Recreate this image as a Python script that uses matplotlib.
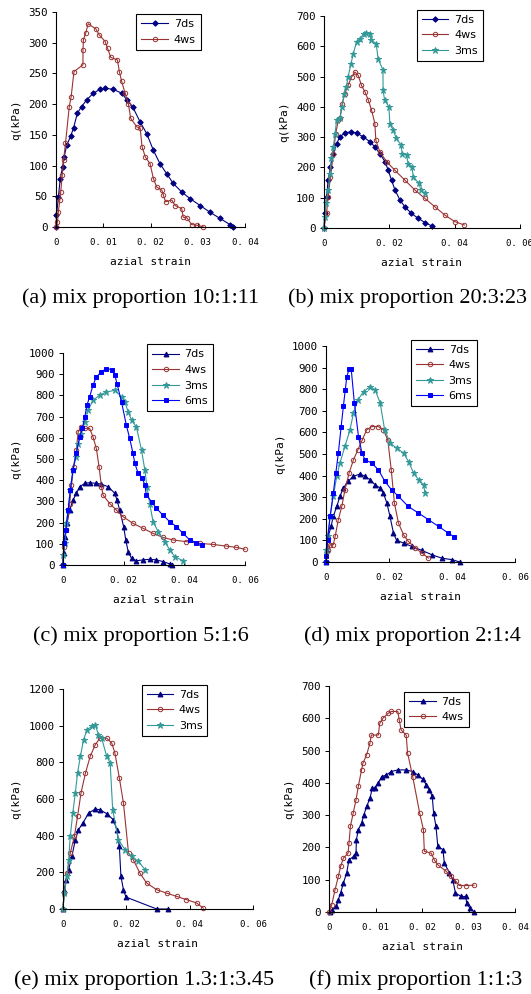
import numpy as np
import matplotlib
matplotlib.use('Agg')
import matplotlib.pyplot as plt

# ---- data (strain, q in kPa) ----
# (a) mix proportion 10:1:11
a_7ds_x = [0, 0.0001, 0.0005, 0.0009, 0.0014, 0.0017, 0.0023, 0.0031, 0.0037, 0.0045, 0.0054, 0.0065,
           0.0079, 0.0093, 0.0104, 0.0121, 0.0139, 0.015, 0.0162, 0.0178, 0.0192, 0.0206, 0.022, 0.0234,
           0.0248, 0.0266, 0.0284, 0.0305, 0.0326, 0.0347, 0.0368, 0.0375]
a_7ds_y = [0, 19, 49, 79, 98, 114, 134, 148, 161, 185, 196, 207, 218, 224, 226, 224, 218, 207, 196, 171,
           152, 125, 103, 87, 71, 57, 46, 35, 24, 14, 4, 0]
a_4ws_x = [0, 0.0003, 0.0005, 0.0008, 0.0010, 0.0013, 0.0016, 0.0020, 0.0028, 0.0032, 0.0038, 0.0057,
           0.0057, 0.0058, 0.0063, 0.0068, 0.0085, 0.0091, 0.0104, 0.0109, 0.0116, 0.013, 0.0134, 0.0139,
           0.0146, 0.0153, 0.0158, 0.0171, 0.0178, 0.0182, 0.0189, 0.0199, 0.0206, 0.0213, 0.0224, 0.0227,
           0.0232, 0.0245, 0.0252, 0.0266, 0.0269, 0.0277, 0.0287, 0.0298, 0.0312]
a_4ws_y = [0, 8, 25, 44, 57, 84, 109, 136, 196, 212, 253, 264, 288, 305, 316, 331, 322, 313, 302, 291,
           276, 272, 253, 237, 218, 201, 177, 163, 161, 131, 114, 103, 79, 65, 60, 52, 41, 44, 35, 30,
           16, 15, 4, 3, 0]

# (b) mix proportion 20:3:23
b_7ds_x = [0, 0.0003, 0.0008, 0.0013, 0.002, 0.0029, 0.0039, 0.0049, 0.0064, 0.0083, 0.01, 0.012, 0.0141,
           0.0156, 0.0171, 0.0187, 0.0197, 0.0207, 0.0218, 0.0233, 0.0248, 0.0268, 0.0289, 0.0309, 0.033]
b_7ds_y = [0, 48, 103, 158, 202, 246, 279, 301, 314, 318, 314, 301, 285, 268, 246, 219, 191, 158, 125,
           92, 70, 48, 32, 18, 7]
b_4ws_x = [0, 0.0008, 0.0013, 0.002, 0.0029, 0.0036, 0.0044, 0.0049, 0.0056, 0.0064, 0.0074, 0.0085,
           0.0095, 0.0105, 0.0115, 0.0126, 0.0136, 0.0146, 0.0156, 0.0159, 0.0171, 0.0192, 0.0217, 0.0248,
           0.0279, 0.0309, 0.034, 0.037, 0.0401, 0.043]
b_4ws_y = [0, 48, 103, 169, 246, 312, 355, 362, 411, 444, 471, 499, 515, 504, 471, 449, 422, 389, 345,
           290, 252, 219, 191, 158, 125, 98, 70, 43, 21, 10]
b_3ms_x = [0, 0.0003, 0.0006, 0.0013, 0.0018, 0.0023, 0.0029, 0.0034, 0.0039, 0.0049, 0.0056, 0.0062,
           0.0069, 0.0074, 0.0083, 0.009, 0.01, 0.011, 0.0123, 0.013, 0.014, 0.0145, 0.016, 0.0166, 0.0181,
           0.0181, 0.0186, 0.0199, 0.0202, 0.0212, 0.0222, 0.0236, 0.024, 0.0253, 0.0258, 0.0269, 0.0274,
           0.0291, 0.0297, 0.0309]
b_3ms_y = [0, 37, 81, 125, 180, 230, 268, 312, 356, 362, 400, 444, 466, 499, 543, 576, 614, 625, 642,
           644, 642, 620, 609, 559, 521, 455, 422, 400, 345, 323, 296, 274, 246, 241, 213, 202, 169, 147,
           125, 114]

# (c) mix proportion 5:1:6
c_7ds_x = [0, 0.0002, 0.0007, 0.0013, 0.0022, 0.0033, 0.0044, 0.0055, 0.0072, 0.0088, 0.011, 0.0127,
           0.0149, 0.0171, 0.0178, 0.0187, 0.02, 0.0207, 0.0215, 0.0226, 0.0242, 0.0264, 0.0286, 0.0308,
           0.033, 0.0352, 0.0361]
c_7ds_y = [0, 55, 133, 196, 259, 306, 338, 369, 385, 388, 385, 381, 369, 338, 306, 259, 181, 118, 63, 31,
           20, 24, 27, 24, 16, 5, 0]
c_4ws_x = [0, 0.0002, 0.0011, 0.0022, 0.0028, 0.0035, 0.0044, 0.005, 0.0061, 0.0072, 0.0088, 0.0099,
           0.011, 0.0119, 0.0127, 0.0132, 0.0154, 0.0176, 0.0198, 0.0231, 0.0264, 0.0297, 0.033, 0.0363,
           0.0407, 0.0451, 0.0495, 0.0539, 0.0572, 0.06]
c_4ws_y = [0, 86, 165, 290, 377, 463, 542, 628, 652, 644, 644, 604, 550, 463, 369, 330, 290, 259, 228,
           196, 173, 149, 130, 118, 110, 102, 97, 89, 83, 74]
c_3ms_x = [0, 0.0001, 0.0006, 0.0011, 0.0017, 0.0024, 0.0033, 0.0042, 0.005, 0.0061, 0.0072, 0.0083,
           0.0099, 0.0121, 0.0143, 0.0171, 0.0193, 0.0204, 0.0215, 0.0226, 0.0242, 0.0259, 0.027, 0.0277,
           0.0286, 0.0297, 0.0314, 0.0336, 0.0352, 0.0369, 0.0396]
c_3ms_y = [0, 47, 102, 196, 259, 353, 447, 510, 573, 620, 675, 730, 777, 801, 816, 824, 793, 769, 722,
           683, 651, 542, 447, 369, 290, 204, 157, 110, 71, 39, 20]
c_6ms_x = [0, 0.0003, 0.0009, 0.0017, 0.0024, 0.0033, 0.0044, 0.0055, 0.0064, 0.0072, 0.0079, 0.0088,
           0.0099, 0.011, 0.0127, 0.0143, 0.016, 0.0171, 0.0178, 0.0193, 0.0209, 0.022, 0.0231, 0.0237,
           0.0248, 0.0262, 0.027, 0.0275, 0.0292, 0.0308, 0.033, 0.0352, 0.0374, 0.0396, 0.0418, 0.044,
           0.0457]
c_6ms_y = [0, 102, 165, 259, 353, 447, 526, 604, 644, 699, 754, 793, 848, 887, 911, 926, 922, 895, 856,
           769, 659, 597, 526, 479, 432, 408, 377, 330, 298, 267, 235, 204, 181, 149, 118, 105, 94]

# (d) mix proportion 2:1:4
d_7ds_x = [0, 0.0002, 0.0007, 0.0016, 0.0023, 0.0034, 0.0044, 0.0055, 0.0069, 0.0087, 0.0108, 0.0124,
           0.014, 0.0156, 0.0172, 0.0182, 0.0193, 0.0203, 0.0214, 0.0224, 0.0246, 0.0272, 0.0304, 0.0335,
           0.0367, 0.0399, 0.0425]
d_7ds_y = [0, 57, 119, 165, 211, 257, 304, 342, 373, 396, 408, 396, 381, 357, 342, 319, 273, 211, 134,
           100, 88, 72, 54, 34, 18, 11, 0]
d_4ws_x = [0, 0.0007, 0.0013, 0.0023, 0.0029, 0.0039, 0.005, 0.006, 0.0073, 0.0087, 0.0101, 0.0115,
           0.0129, 0.0145, 0.0166, 0.0182, 0.0196, 0.0207, 0.0217, 0.023, 0.0246, 0.0261, 0.0283, 0.0304,
           0.0325]
d_4ws_y = [0, 57, 80, 80, 119, 196, 257, 334, 411, 473, 519, 565, 612, 627, 627, 612, 565, 427, 273,
           180, 126, 96, 65, 42, 18]
d_3ms_x = [0, 0.0001, 0.0005, 0.0013, 0.0023, 0.0034, 0.0044, 0.006, 0.0076, 0.0087, 0.0101, 0.0119,
           0.014, 0.0156, 0.0172, 0.0186, 0.0204, 0.0225, 0.0246, 0.0262, 0.0278, 0.0294, 0.031, 0.0314]
d_3ms_y = [0, 57, 119, 211, 304, 396, 458, 535, 612, 689, 750, 789, 812, 797, 735, 612, 550, 527, 504,
           465, 411, 381, 357, 319]
d_6ms_x = [0, 0.0001, 0.0005, 0.0013, 0.0023, 0.0031, 0.0039, 0.0048, 0.0055, 0.0061, 0.0066, 0.0073,
           0.008, 0.009, 0.0103, 0.0114, 0.0124, 0.0145, 0.0166, 0.0187, 0.0208, 0.023, 0.0261, 0.0293,
           0.0325, 0.0357, 0.0388, 0.0407]
d_6ms_y = [0, 26, 103, 211, 319, 411, 504, 627, 720, 797, 858, 892, 892, 735, 581, 504, 473, 458, 427,
           373, 334, 304, 257, 227, 196, 165, 134, 116]

# (e) mix proportion 1.3:1:3.45
e_7ds_x = [0, 0.0004, 0.001, 0.0018, 0.0028, 0.0039, 0.0049, 0.0063, 0.0081, 0.0102, 0.0117, 0.0138,
           0.0159, 0.017, 0.0178, 0.0183, 0.0191, 0.0199, 0.0296, 0.0333]
e_7ds_y = [0, 105, 160, 215, 287, 378, 433, 469, 524, 545, 542, 520, 487, 433, 342, 178, 105, 65, 0, 0]
e_4ws_x = [0, 0.0004, 0.0013, 0.0023, 0.0036, 0.0046, 0.0057, 0.0071, 0.0086, 0.0102, 0.0117, 0.0138,
           0.0154, 0.0164, 0.0178, 0.0191, 0.0207, 0.0222, 0.0243, 0.0264, 0.0296, 0.0327, 0.0359, 0.039,
           0.0422, 0.0443]
e_4ws_y = [0, 87, 196, 305, 396, 505, 633, 742, 833, 896, 933, 933, 905, 851, 715, 578, 305, 269, 196,
           142, 105, 87, 69, 51, 33, 5]
e_3ms_x = [0, 0.0004, 0.0013, 0.0018, 0.0023, 0.0031, 0.0039, 0.0046, 0.0055, 0.0065, 0.0076, 0.0091,
           0.0102, 0.0112, 0.0122, 0.0138, 0.0149, 0.0157, 0.0175, 0.0196, 0.0217, 0.0238, 0.0259]
e_3ms_y = [0, 87, 178, 269, 396, 524, 633, 742, 833, 924, 978, 996, 1005, 951, 933, 833, 796, 542, 378,
           324, 287, 260, 215]

# (f) mix proportion 1:1:3
f_7ds_x = [0.0002, 0.0006, 0.0016, 0.002, 0.0025, 0.0031, 0.0038, 0.0043, 0.0053, 0.0058, 0.0059, 0.0063,
           0.007, 0.0075, 0.0081, 0.0088, 0.0093, 0.0098, 0.0106, 0.0113, 0.0123, 0.0134, 0.0148, 0.0166,
           0.018, 0.0191, 0.0202, 0.0209, 0.0216, 0.0222, 0.0225, 0.023, 0.0234, 0.0245, 0.0248, 0.0259,
           0.0266, 0.0272, 0.0284, 0.0294, 0.0296, 0.0303, 0.0312]
f_7ds_y = [0, 5, 18, 38, 59, 90, 121, 162, 172, 182, 224, 255, 275, 301, 327, 352, 383, 383, 399, 419,
           424, 435, 440, 440, 435, 424, 411, 394, 378, 358, 306, 265, 203, 193, 152, 121, 100, 59, 48,
           48, 28, 12, 0]
f_4ws_x = [0, 0.0006, 0.0013, 0.002, 0.0025, 0.0031, 0.0041, 0.0043, 0.0046, 0.0052, 0.0058, 0.0063,
           0.007, 0.0073, 0.0081, 0.0088, 0.0091, 0.0106, 0.0109, 0.0116, 0.0127, 0.0134, 0.0148, 0.0151,
           0.0155, 0.0166, 0.0169, 0.018, 0.0195, 0.0203, 0.0205, 0.022, 0.0226, 0.0234, 0.0252, 0.0262,
           0.0273, 0.028, 0.0294, 0.0312]
f_4ws_y = [0, 23, 69, 110, 141, 167, 182, 213, 265, 306, 347, 389, 440, 461, 487, 523, 548, 548, 584,
           600, 615, 621, 621, 595, 564, 548, 492, 419, 306, 255, 188, 182, 162, 146, 126, 110, 95, 82,
           82, 83]

captions = ['(a) mix proportion 10:1:11', '(b) mix proportion 20:3:23', '(c) mix proportion 5:1:6',
            '(d) mix proportion 2:1:4', '(e) mix proportion 1.3:1:3.45', '(f) mix proportion 1:1:3']

# series styles
styles = {
    '7ds': dict(color='#000080', marker='D', ms=2.8, mfc='#000080'),
    '4ws': dict(color='#993333', marker='o', ms=3.2, mfc='none'),
    '3ms': dict(color='#339999', marker='*', ms=4.5, mfc='#339999'),
    '6ms': dict(color='#0000FF', marker='s', ms=3.2, mfc='#0000FF'),
}
tri = dict(marker='^', ms=3.5)

mono = 'DejaVu Sans Mono'


def fmt_tick(v):
    if v == 0:
        return '0'
    return '0. %02d' % round(v * 100)


panels = [
    # rect, series, xmax, xstep, ymax, ystep, legend anchor, triangles for 7ds
    ([0.1055, 0.7716, 0.356, 0.2163], [('7ds', a_7ds_x, a_7ds_y), ('4ws', a_4ws_x, a_4ws_y)],
     0.04, 0.01, 350, 50, (0.765, 0.99), False),
    ([0.610, 0.7706, 0.369, 0.2133], [('7ds', b_7ds_x, b_7ds_y), ('4ws', b_4ws_x, b_4ws_y),
                                       ('3ms', b_3ms_x, b_3ms_y)],
     0.06, 0.02, 700, 100, (0.81, 1.03), False),
    ([0.1186, 0.4316, 0.3427, 0.2133], [('7ds', c_7ds_x, c_7ds_y), ('4ws', c_4ws_x, c_4ws_y),
                                         ('3ms', c_3ms_x, c_3ms_y), ('6ms', c_6ms_x, c_6ms_y)],
     0.06, 0.02, 1000, 100, (0.825, 1.04), True),
    ([0.614, 0.4346, 0.356, 0.2173], [('7ds', d_7ds_x, d_7ds_y), ('4ws', d_4ws_x, d_4ws_y),
                                       ('3ms', d_3ms_x, d_3ms_y), ('6ms', d_6ms_x, d_6ms_y)],
     0.06, 0.02, 1000, 100, (0.80, 1.03), True),
    ([0.1186, 0.0855, 0.3578, 0.2213], [('7ds', e_7ds_x, e_7ds_y), ('4ws', e_4ws_x, e_4ws_y),
                                         ('3ms', e_3ms_x, e_3ms_y)],
     0.06, 0.02, 1200, 200, (0.76, 1.02), True),
    ([0.6196, 0.0825, 0.3503, 0.2274], [('7ds', f_7ds_x, f_7ds_y), ('4ws', f_4ws_x, f_4ws_y)],
     0.04, 0.01, 700, 100, (0.75, 0.975), True),
]

# caption centres in figure fractions
caption_pos = [(0.265, 0.700), (0.768, 0.700), (0.265, 0.360), (0.776, 0.360), (0.271, 0.014),
               (0.783, 0.014)]

fig = plt.figure(figsize=(5.31, 9.94), dpi=100)

for i, (rect, series, xmax, xstep, ymax, ystep, anchor, use_tri) in enumerate(panels):
    ax = fig.add_axes(rect)
    for name, xs, ys in series:
        st = dict(styles[name])
        if name == '7ds' and use_tri:
            st.update(tri)
        ax.plot(xs, ys, color=st['color'], lw=0.8, marker=st['marker'], ms=st['ms'],
                mfc=st['mfc'], mec=st['color'], mew=0.7, label=name, clip_on=False)
    xt = np.arange(0, xmax + xstep / 2, xstep)
    yt = np.arange(0, ymax + ystep / 2, ystep)
    ax.set_xlim(0, xmax)
    ax.set_ylim(0, ymax)
    ax.set_xticks(xt)
    ax.set_xticklabels([fmt_tick(v) for v in xt], family=mono, fontsize=6.5)
    ax.set_yticks(yt)
    ax.set_yticklabels([str(int(v)) for v in yt], family=mono, fontsize=7.8)
    ax.tick_params(axis='x', direction='in', length=3, width=0.7, pad=8)
    ax.tick_params(axis='y', direction='out', length=3, width=0.7, pad=3)
    for s in ['top', 'right']:
        ax.spines[s].set_visible(False)
    for s in ['left', 'bottom']:
        ax.spines[s].set_linewidth(0.8)
    ax.set_xlabel('azial strain', family=mono, fontsize=8, labelpad=7)
    ax.set_ylabel('q(kPa)', family=mono, fontsize=8, labelpad=5)
    leg = ax.legend(loc='upper right', bbox_to_anchor=anchor, prop={'size': 8}, frameon=True,
                    fancybox=False, edgecolor='black', framealpha=1, handlelength=2.4,
                    borderpad=0.45, labelspacing=0.5, handletextpad=0.5, borderaxespad=0)
    leg.get_frame().set_linewidth(0.8)
    fig.text(caption_pos[i][0], caption_pos[i][1], captions[i], family='Liberation Serif',
             fontsize=16, ha='center', va='center')

fig.savefig('out.png', dpi=100)
